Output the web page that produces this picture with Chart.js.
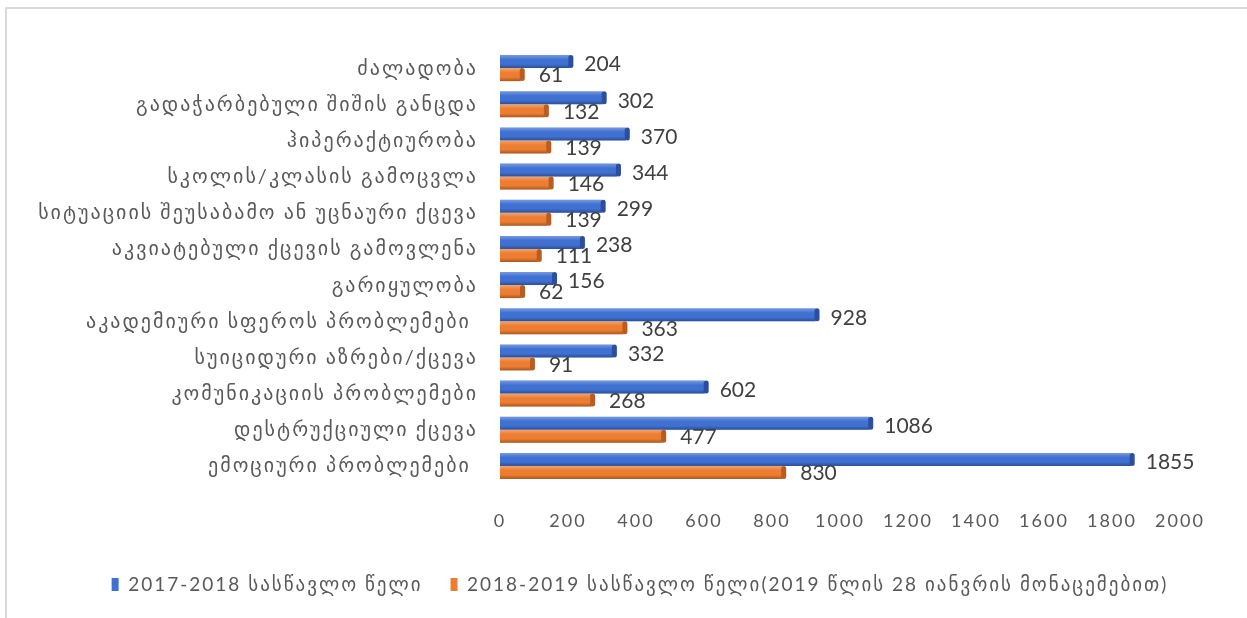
<!DOCTYPE html>
<html>
<head>
<meta charset="utf-8">
<script src="https://cdn.jsdelivr.net/npm/chart.js@4"></script>
<style>
  html, body { margin: 0; padding: 0; background: #fff; }
  #wrap { position: relative; width: 1247px; height: 618px; overflow: hidden; }
  #frame { position: absolute; left: 5px; top: 7px; width: 1300px; height: 700px;
           border-left: 2px solid #d9d9d9; border-top: 2px solid #d9d9d9; }
  canvas { position: absolute; left: 0; top: 0; }
</style>
</head>
<body>
<div id="wrap">
  <div id="frame"></div>
  <canvas id="myChart" width="1247" height="618"></canvas>
</div>
<script>
const categories = [
  "ძალადობა",
  "გადაჭარბებული შიშის განცდა",
  "ჰიპერაქტიურობა",
  "სკოლის/კლასის გამოცვლა",
  "სიტუაციის შეუსაბამო ან უცნაური ქცევა",
  "აკვიატებული ქცევის გამოვლენა",
  "გარიყულობა",
  "აკადემიური სფეროს პრობლემები ",
  "სუიციდური აზრები/ქცევა",
  "კომუნიკაციის პრობლემები",
  "დესტრუქციული ქცევა",
  "ემოციური პრობლემები "
];
const values2017 = [204, 302, 370, 344, 299, 238, 156, 928, 332, 602, 1086, 1855];
const values2018 = [61, 132, 139, 146, 139, 111, 62, 363, 91, 268, 477, 830];
const seriesNames = [
  "2017-2018 სასწავლო წელი",
  "2018-2019 სასწავლო წელი(2019 წლის 28 იანვრის მონაცემებით)"
];
const xMin = 0;
const xMax = 2000;
const xStep = 200;

const fontStack = "Lato, 'DejaVu Sans', sans-serif";

// the georgian glyphs of the original font are wider, so the y labels and
// the legend get some letter spacing; x ticks (z:1) and value labels don't
const spacing = {
  id: "spacing",
  beforeUpdate(chart) { chart.ctx.letterSpacing = "2px"; },
  beforeDraw(chart) { chart.ctx.letterSpacing = "2px"; },
  beforeDatasetsDraw(chart) { chart.ctx.letterSpacing = "0px"; },
  // legend in the original sits a bit right of centre
  afterLayout(chart) {
    chart.legend.left += 50;
    chart.legend.right += 50;
  }
};

// bar shading + value labels, drawn from the bar elements
const barDecor = {
  id: "barDecor",
  afterDatasetsDraw(chart) {
    const ctx = chart.ctx;
    chart.data.datasets.forEach((ds, di) => {
      const meta = chart.getDatasetMeta(di);
      meta.data.forEach((bar, i) => {
        const p = bar.getProps(["x", "y", "base", "height"], true);
        const top = p.y - p.height / 2;
        const g = ctx.createLinearGradient(0, top, 0, top + p.height);
        g.addColorStop(0, "rgba(255,255,255,0.30)");
        g.addColorStop(0.35, "rgba(255,255,255,0)");
        g.addColorStop(0.7, "rgba(0,0,0,0)");
        g.addColorStop(1, "rgba(0,0,0,0.30)");
        ctx.save();
        ctx.fillStyle = g;
        ctx.fillRect(p.base, top, p.x - p.base, p.height);
        // end cap
        ctx.fillStyle = ds.capColor;
        ctx.beginPath();
        ctx.roundRect(p.x - 1, top, 5, p.height, 2.5);
        ctx.fill();
        ctx.restore();

        ctx.save();
        ctx.font = "21px " + fontStack;
        ctx.fillStyle = "#404040";
        ctx.textAlign = "left";
        ctx.textBaseline = "middle";
        ctx.fillText(String(ds.data[i]), p.x + ds.labelOffset, p.y + ds.labelDy);
        ctx.restore();
      });
    });
  }
};

const ctx = document.getElementById("myChart").getContext("2d");
const chart = new Chart(ctx, {
  type: "bar",
  data: {
    labels: categories,
    datasets: [
      {
        label: seriesNames[0],
        data: values2017,
        backgroundColor: "#3f70d2",
        capColor: "#2b4f9e",
        labelOffset: 15,
        labelDy: 3,
        categoryPercentage: 0.72,
        barPercentage: 1.0
      },
      {
        label: seriesNames[1],
        data: values2018,
        backgroundColor: "#ed7d31",
        capColor: "#b85c20",
        labelOffset: 18,
        labelDy: 1,
        categoryPercentage: 0.72,
        barPercentage: 1.0
      }
    ]
  },
  options: {
    indexAxis: "y",
    responsive: false,
    animation: false,
    layout: { padding: { top: 50, right: 67, left: 0, bottom: 14 } },
    scales: {
      x: {
        min: xMin,
        max: xMax,
        z: 1,
        ticks: {
          stepSize: xStep,
          color: "#595959",
          padding: 26,
          font: { family: fontStack, size: 18 },
          callback: v => String(v)
        },
        grid: { display: false, drawTicks: false },
        border: { display: false },
        afterFit(scale) { scale.height = 63; }
      },
      y: {
        ticks: {
          color: "#595959",
          padding: 22,
          font: { family: fontStack, size: 20 },
          autoSkip: false
        },
        grid: { display: false, drawTicks: false },
        border: { display: false },
        afterFit(scale) { scale.width = 500; }
      }
    },
    plugins: {
      legend: {
        position: "bottom",
        labels: {
          boxWidth: 7,
          boxHeight: 13,
          padding: 28,
          color: "#595959",
          font: { family: fontStack, size: 19 }
        }
      },
      tooltip: { enabled: false }
    }
  },
  plugins: [spacing, barDecor]
});
</script>
</body>
</html>
